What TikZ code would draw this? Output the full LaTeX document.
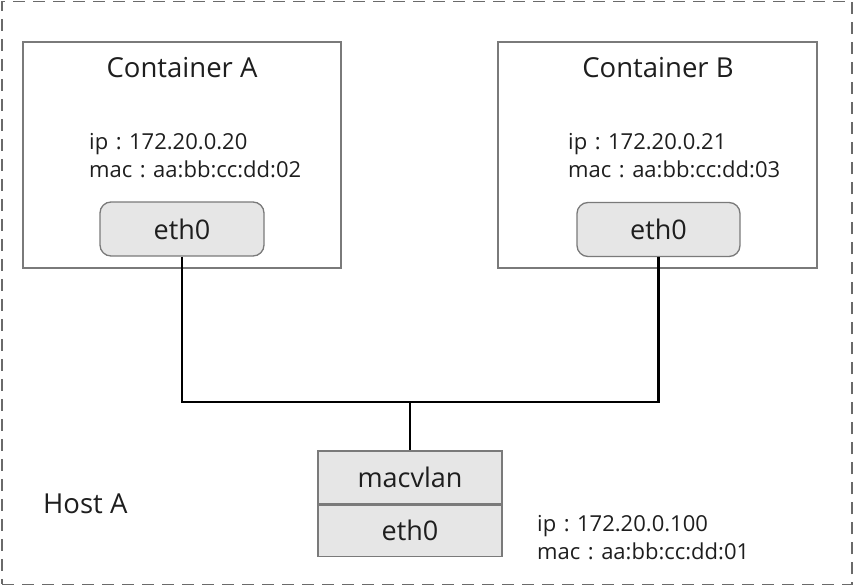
\documentclass[tikz,border=0pt]{standalone}
\usepackage{fontspec}
\setmainfont{Open Sans}
\newcommand\fcol{\makebox[0.95em]{:}}
\definecolor{boxline}{HTML}{7A7A7A}
\definecolor{hostline}{HTML}{6A6A6A}
\definecolor{ifill}{HTML}{E6E6E6}
\definecolor{txt}{HTML}{1E1E1E}
\tikzset{
  hostbox/.style={draw=hostline, line width=1.3pt, dash pattern=on 12pt off 8pt, inner sep=0pt},
  contbox/.style={draw=boxline, line width=1.3pt, inner sep=0pt},
  ifbox/.style={draw=boxline, line width=1.3pt, fill=ifill, rounded corners=11pt, inner sep=0pt, text=txt, font=\fontsize{27}{30}\selectfont},
  stackbox/.style={draw=boxline, line width=1.3pt, fill=ifill, inner sep=0pt, text=txt, font=\fontsize{27}{30}\selectfont},
  bigtxt/.style={inner sep=0pt, text=txt, font=\fontsize{27.5}{30}\selectfont, anchor=base},
  smalltxt/.style={inner sep=0pt, text=txt, font=\fontsize{22}{26}\selectfont, anchor=base west},
  wire/.style={draw=black, line width=2.2pt}
}
\begin{document}
\begin{tikzpicture}[x=1pt,y=-1pt]
\useasboundingbox (0,0) rectangle (856,588);
% host
\node[hostbox, minimum width=850pt, minimum height=582.5pt] (host) at (427,293) {};
\node[bigtxt, anchor=base west] (hostlbl) at (43,513) {Host A};
% container A
\node[contbox, minimum width=318pt, minimum height=226pt] (contA) at (182,155) {};
\node[bigtxt] (titleA) at (182,78) {Container A};
\node[smalltxt] (ipA) at (89,150) {ip\fcol 172.20.0.20};
\node[smalltxt] (macA) at (89,178) {mac\fcol aa:bb:cc:dd:02};
\node[ifbox, minimum width=164pt, minimum height=54pt] (ethA) at (182,229) {eth0};
% container B
\node[contbox, minimum width=319pt, minimum height=226pt] (contB) at (657.5,155) {};
\node[bigtxt] (titleB) at (658,78) {Container B};
\node[smalltxt] (ipB) at (568,150) {ip\fcol 172.20.0.21};
\node[smalltxt] (macB) at (568,178) {mac\fcol aa:bb:cc:dd:03};
\node[ifbox, minimum width=163pt, minimum height=54pt] (ethB) at (658.5,229.5) {eth0};
% macvlan stack
\node[stackbox, minimum width=184pt, minimum height=53pt] (macv) at (410,477.5) {macvlan};
\node[stackbox, minimum width=184pt, minimum height=51pt, anchor=north] (ethH) at (macv.south) {eth0};
\node[smalltxt] (ipH) at (537,531) {ip\fcol 172.20.0.100};
\node[smalltxt] (macH) at (537,559) {mac\fcol aa:bb:cc:dd:01};
% connectors
\coordinate (bus) at (410,402);
\draw[wire] (ethA.south) |- (bus) -| (ethB.south);
\draw[wire] (bus) -- (macv.north);
\end{tikzpicture}
\end{document}
